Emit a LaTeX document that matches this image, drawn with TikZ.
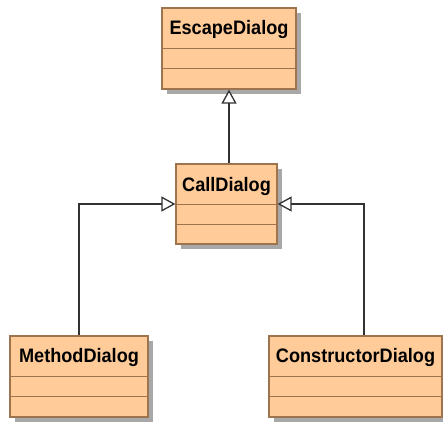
\documentclass[tikz,border=0pt]{standalone}
\usepackage{fontspec}
\setmainfont{Liberation Sans}
\newfontfamily\classfont{Liberation Sans}[FakeStretch=0.93]
\usetikzlibrary{arrows.meta,shadows,calc}
\definecolor{classfill}{RGB}{255,204,153}
\definecolor{classline}{RGB}{158,116,78}
\definecolor{shadowgray}{RGB}{168,168,168}
\definecolor{wire}{RGB}{50,50,50}
\tikzset{
  classbox/.style={draw=classline, fill=classfill, line width=1.2pt, inner sep=0pt,
    drop shadow={shadow xshift=5pt, shadow yshift=-5pt, fill=shadowgray, opacity=1}},
  classname/.style={font=\classfont\bfseries\fontsize{19.5}{23}\selectfont, anchor=base, inner sep=0pt},
  sep/.style={draw=classline, line width=1.2pt},
  inherit/.style={draw=wire, line width=1.3pt, -{Triangle[fill=white, length=14pt, width=15pt]}}
}
% one UML class: name, centre, width, height, title baseline below top, title
\newcommand{\umlclass}[7]{%
  \node[classbox, minimum width=#4, minimum height=#5] (#1) at (#2,#3) {};
  \node[classname] (#1-title) at ($(#1.north)+(0,#6)$) {#7};
  \draw[sep] ($(#1.north west)+(0,41)$) -- ($(#1.north east)+(0,41)$);
  \draw[sep] ($(#1.north west)+(0,61)$) -- ($(#1.north east)+(0,61)$);
}
\begin{document}
\begin{tikzpicture}[x=1pt, y=-1pt]
  \useasboundingbox (0,0) rectangle (443,421);
  \umlclass{esc}{229}{48.5}{134pt}{81pt}{27}{EscapeDialog}
  \umlclass{call}{226.5}{204}{101pt}{80pt}{28.5}{CallDialog}
  \umlclass{meth}{79}{376.5}{138pt}{81pt}{27}{MethodDialog}
  \umlclass{cons}{355.5}{376.5}{173pt}{81pt}{27}{ConstructorDialog}
  \coordinate (cons-top) at ($(cons.north)+(8.5,0)$);
  \draw[inherit] (call.north -| esc.south) -- (esc.south);
  \draw[inherit] (meth.north) |- (call.west);
  \draw[inherit] (cons-top) |- (call.east);
\end{tikzpicture}
\end{document}
